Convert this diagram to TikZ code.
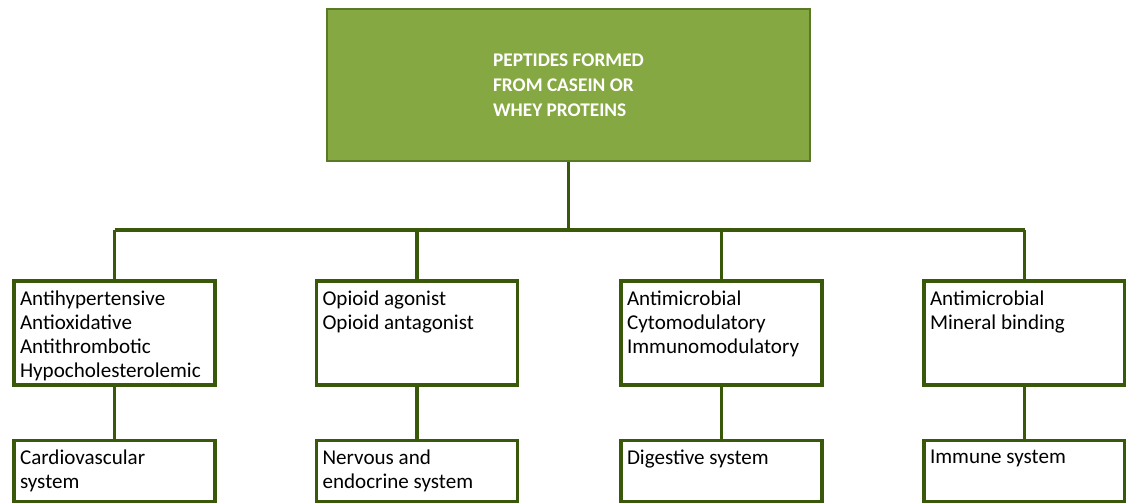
\documentclass[tikz,border=0pt]{standalone}
\usepackage{fontspec}
\setmainfont{Carlito}
\usetikzlibrary{positioning}
\definecolor{Leaf}{RGB}{134,168,66}
\definecolor{LeafEdge}{RGB}{88,122,38}
\definecolor{Stem}{RGB}{58,88,10}
\tikzset{
  group/.style={draw=Stem, line width=1.8pt, fill=white, inner sep=0.12cm,
                font=\fontsize{12}{13.8}\selectfont},
  wire/.style={draw=Stem, line width=1.8pt}
}
\newcommand{\boxtext}[2]{\parbox[c][#1][t]{3.78cm}{\vspace*{0.07cm}\raggedright #2}}

\begin{document}
\begin{tikzpicture}[x=0.02cm, y=-0.02cm]
            \useasboundingbox (0,0) rectangle (1126,503);
            % Title box
            \node[draw=LeafEdge, fill=Leaf, line width=1.2pt, minimum width=9.66cm, minimum height=3.04cm,
                  align=left, text=white, font=\fontsize{11}{14.2}\selectfont\bfseries] (root) at (568.5,85)
                  {PEPTIDES FORMED\\FROM CASEIN OR\\WHEY PROTEINS};
            
            % Activities
            \node[group] (act1) at (114.5,333) {\boxtext{1.84cm}{Antihypertensive\\Antioxidative\\Antithrombotic\\Hypocholesterolemic}};
            \node[group] (act2) at (417,333) {\boxtext{1.84cm}{Opioid agonist\\Opioid antagonist}};
            \node[group] (act3) at (721.5,333) {\boxtext{1.84cm}{Antimicrobial\\Cytomodulatory\\Immunomodulatory}};
            \node[group] (act4) at (1024.5,333) {\boxtext{1.84cm}{Antimicrobial\\Mineral binding}};
            
            % Body systems
            \node[group, below=1.04cm of act1] (sys1) {\boxtext{0.98cm}{Cardiovascular\\system}};
            \node[group, below=1.04cm of act2] (sys2) {\boxtext{0.98cm}{Nervous and\\endocrine system}};
            \node[group, below=1.04cm of act3] (sys3) {\boxtext{0.98cm}{Digestive system}};
            \node[group, below=1.04cm of act4] (sys4) {\boxtext{0.98cm}{Immune system}};
            
            % Connectors
            \coordinate (bus) at (root.south |- 0,230);
            \draw[wire] (root.south) -- (bus);
            \draw[wire] (act1.north |- bus) -- (act4.north |- bus);
            \foreach \i in {1,2,3,4} {
                \draw[wire] (act\i.north |- bus) -- (act\i.north);
                \draw[wire] (act\i.south) -- (sys\i.north);
            }
        \end{tikzpicture}
\end{document}
